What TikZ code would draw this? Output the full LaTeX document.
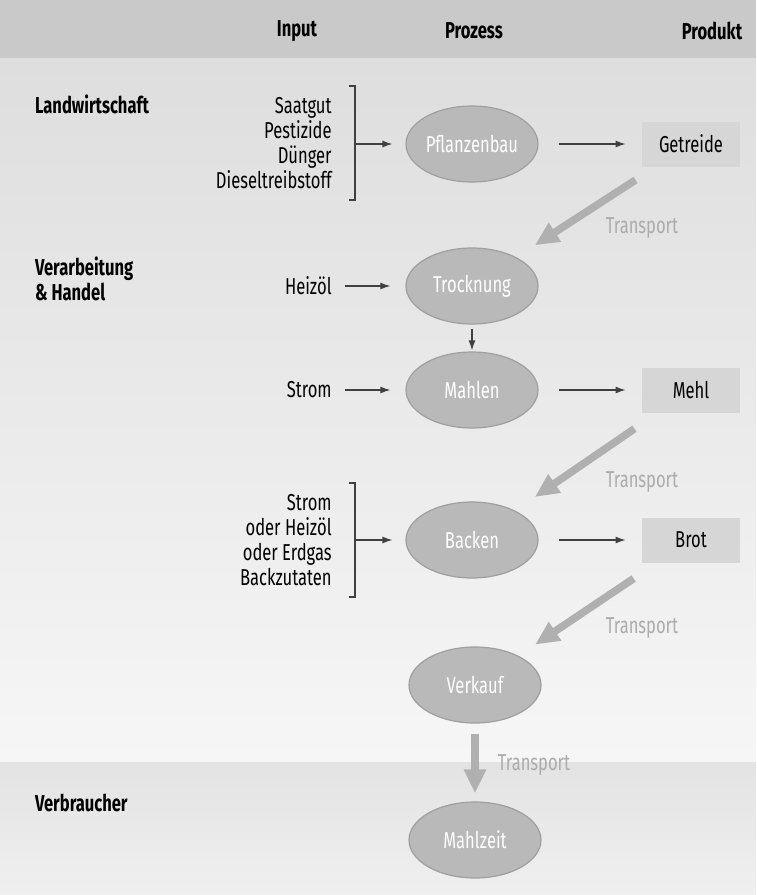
\documentclass[tikz,border=0pt]{standalone}
\usepackage{fontspec}
\setmainfont{Fira Sans}[FakeStretch=0.72]
\usetikzlibrary{shapes.geometric,arrows.meta}
\begin{document}
\begin{tikzpicture}[x=0.5pt,y=-0.5pt,
  every node/.style={font=\fontsize{11.5}{12.4}\selectfont},
  head/.style={font=\fontsize{11.5}{12.4}\selectfont\bfseries},
  sect/.style={anchor=west,align=left,font=\fontsize{11.5}{12.4}\selectfont\bfseries},
  inp/.style={anchor=east,align=right,inner sep=1pt},
  proc/.style={ellipse,draw=gray!75,line width=0.6pt,fill=gray!55,text=white,minimum width=66pt,minimum height=38pt,inner sep=0pt},
  prod/.style={rectangle,fill=gray!32,minimum width=49pt,minimum height=22.5pt,inner sep=0pt},
  brace/.style={draw=black!75,line width=0.6pt},
  flow/.style={draw=black!75,line width=0.6pt,-{Latex[length=5pt,width=3.5pt]},shorten >=7.5pt},
  trans/.style={draw=gray!62,line width=3.8pt,-{Triangle[length=12pt,width=10.5pt]}},
  tlab/.style={text=gray!65}]
\useasboundingbox (0,0) rectangle (756,895);

% background bands
\fill[gray!42] (0,0) rectangle (756,58);
\shade[top color=gray!26,bottom color=gray!7] (0,58) rectangle (756,762);
\shade[top color=gray!22,bottom color=gray!12] (0,762) rectangle (756,895);

\node[head] (hin) at (297,31) {Input};
\node[head] (hpr) at (474,31) {Prozess};
\node[head] (hpd) at (712,31) {Produkt};

\node[sect] (lw) at (28,104) {Landwirtschaft};
\node[sect] (vh) at (28,279) {Verarbeitung\\\& Handel};
\node[sect] (vb) at (28,803) {Verbraucher};

\node[inp] (in1) at (334,143) {Saatgut\\Pestizide\\Dünger\\Dieseltreibstoff};
\node[inp] (in2) at (334,286) {Heizöl};
\node[inp] (in3) at (334,390) {Strom};
\node[inp] (in4) at (334,540) {Strom\\oder Heizöl\\oder Erdgas\\Backzutaten};

\node[proc] (pfl) at (472,144) {Pflanzenbau};
\node[proc] (tro) at (472,286) {Trocknung};
\node[proc] (mah) at (472,390) {Mahlen};
\node[proc] (bac) at (472,540) {Backen};
\node[proc] (ver) at (475,685) {Verkauf};
\node[proc] (mzt) at (475,840) {Mahlzeit};

\node[prod] (get) at (691,144) {Getreide};
\node[prod] (meh) at (691,390) {Mehl};
\node[prod] (bro) at (691,540) {Brot};

\draw[brace] (349,86) -- (355,86) -- (355,200) -- (349,200);
\coordinate (k1) at (355,144);
\draw[brace] (349,483) -- (355,483) -- (355,597) -- (349,597);
\coordinate (k2) at (355,540);

\draw[flow,shorten >=6.5pt] (k1) -- (pfl);
\draw[flow,shorten <=10pt,shorten >=8pt] (pfl) -- (get);
\draw[flow,shorten <=5.5pt] (in2) -- (tro);
\draw[flow,shorten <=2pt,shorten >=0.5pt] (tro) -- (mah);
\draw[flow,shorten <=5.5pt] (in3) -- (mah);
\draw[flow,shorten <=10pt,shorten >=8pt] (mah) -- (meh);
\draw[flow,shorten >=6.5pt] (k2) -- (bac);
\draw[flow,shorten <=10pt,shorten >=8pt] (bac) -- (bro);

\draw[trans,shorten <=12pt,shorten >=11pt] (get) -- (tro);
\draw[trans,shorten <=14pt,shorten >=12pt] (meh) -- (bac);
\draw[trans,shorten <=14pt,shorten >=10pt] (bro) -- (ver);
\draw[trans,shorten <=5pt,shorten >=4pt] (ver) -- (mzt);

\node[tlab] (tl1) at (642,228) {Transport};
\node[tlab] (tl2) at (642,482) {Transport};
\node[tlab] (tl3) at (642,628) {Transport};
\node[tlab] (tl4) at (534,765) {Transport};
\end{tikzpicture}
\end{document}
